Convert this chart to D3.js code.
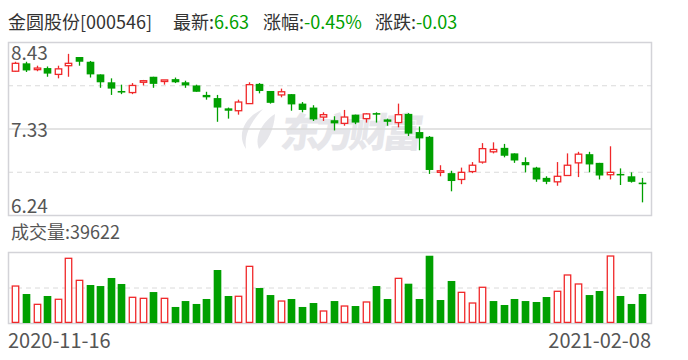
<!DOCTYPE html>
<html><head><meta charset="utf-8">
<script src="https://cdn.jsdelivr.net/npm/d3@7/dist/d3.min.js"></script>
<style>
html,body{margin:0;padding:0;background:#fff;}
svg{display:block;font-family:"Noto Sans CJK SC","Noto Sans",sans-serif;}
</style></head>
<body>
<svg id="chart" width="688" height="360"></svg>
<script>
const stockName = "金圆股份";
const stockCode = "000546";
const dates = ["2020-11-16","2020-11-17","2020-11-18","2020-11-19","2020-11-20","2020-11-23","2020-11-24","2020-11-25","2020-11-26","2020-11-27",
"2020-11-30","2020-12-01","2020-12-02","2020-12-03","2020-12-04","2020-12-07","2020-12-08","2020-12-09","2020-12-10","2020-12-11",
"2020-12-14","2020-12-15","2020-12-16","2020-12-17","2020-12-18","2020-12-21","2020-12-22","2020-12-23","2020-12-24","2020-12-25",
"2020-12-28","2020-12-29","2020-12-30","2020-12-31","2021-01-04","2021-01-05","2021-01-06","2021-01-07","2021-01-08","2021-01-11",
"2021-01-12","2021-01-13","2021-01-14","2021-01-15","2021-01-18","2021-01-19","2021-01-20","2021-01-21","2021-01-22","2021-01-25",
"2021-01-26","2021-01-27","2021-01-28","2021-01-29","2021-02-01","2021-02-02","2021-02-03","2021-02-04","2021-02-05","2021-02-08"];
const open  = [8.06,8.16,8.08,8.10,8.02,8.13,8.24,8.18,8.02,7.92, 7.81,7.79,7.92,7.99,7.93,7.96,7.92,7.88,7.76,7.72,
               7.59,7.56,7.65,7.90,7.81,7.76,7.77,7.65,7.60,7.48, 7.44,7.40,7.51,7.46,7.53,7.45,7.41,7.52,7.29,7.23,
               6.78,6.77,6.69,6.79,6.91,7.04,7.09,7.02,6.91,6.84, 6.71,6.66,6.74,6.90,7.01,6.90,6.75,6.76,6.73,6.65];
const high  = [8.18,8.18,8.13,8.12,8.13,8.28,8.24,8.19,8.02,7.97, 7.89,7.91,7.95,7.99,7.95,7.98,7.94,7.89,7.80,7.76,
               7.60,7.70,7.92,7.91,7.81,7.84,7.77,7.67,7.63,7.54, 7.49,7.57,7.51,7.53,7.54,7.46,7.65,7.53,7.36,7.24,
               6.87,6.80,6.84,6.91,7.15,7.16,7.14,7.02,6.97,6.85, 6.73,6.91,7.02,7.04,7.04,6.90,7.11,6.83,6.78,6.71];
const low   = [8.05,8.05,8.06,7.99,7.97,7.99,8.13,7.98,7.85,7.76, 7.77,7.77,7.88,7.85,7.89,7.91,7.85,7.80,7.70,7.42,
               7.46,7.51,7.65,7.78,7.65,7.73,7.56,7.54,7.43,7.43, 7.31,7.37,7.39,7.41,7.41,7.37,7.35,7.24,7.06,6.76,
               6.73,6.54,6.63,6.77,6.89,7.02,6.97,6.90,6.78,6.66, 6.63,6.61,6.74,6.72,6.78,6.69,6.69,6.62,6.65,6.40];
const close = [8.16,8.07,8.10,8.03,8.09,8.16,8.18,8.02,7.92,7.84, 7.79,7.88,7.94,7.90,7.95,7.92,7.88,7.80,7.73,7.60,
               7.56,7.67,7.89,7.81,7.66,7.80,7.64,7.57,7.45,7.51, 7.40,7.48,7.41,7.52,7.51,7.42,7.51,7.27,7.21,6.81,
               6.80,6.67,6.78,6.87,7.08,7.07,6.99,6.93,6.87,6.69, 6.66,6.73,6.87,7.01,6.88,6.74,6.78,6.75,6.66,6.63];
const volume = [50500,39600,25500,36900,32400,88400,58300,51900,50500,61500, 53300,35100,33700,42300,33700,21900,30000,26000,32800,72400,
                36900,36500,77400,47800,38200,30000,32800,21900,27300,16400, 30000,23200,23200,28700,50500,32800,61000,53700,32800,91900,
                31400,57400,41900,27300,48800,30000,24600,32800,30000,28700, 35500,43300,65600,53300,38200,43700,91500,36900,26000,39622];
const priceTicks = [8.43, 7.335, 6.24];
const priceTickLabels = ["8.43","7.33","6.24"];
const volumeMax = 97000;

const RED = "#f0282a", GREEN = "#00a000", TXT = "#555", FRAME = "#d3d3d8", GRID = "#dadada";
const svg = d3.select("#chart");
const M = {left: 8, right: 651, top: 42, bottom: 215, vTop: 252, vBottom: 323};
const fmt2 = d3.formatLocale({decimal: ".", thousands: ",", grouping: [3], currency: ["", ""], minus: "-"}).format(".2f");

const x = d3.scaleBand().domain(dates).range([10, 647]).padding(0);
const y = d3.scaleLinear().domain([6.24, 8.43]).range([M.bottom, M.top]);
const yv = d3.scaleLinear().domain([0, volumeMax]).range([M.vBottom, M.vTop]);
const bw = x.bandwidth() * 0.72;
const cx = d => x(d) + x.bandwidth() / 2;

// header
const n = close.length;
const last = close[n - 1], chg = last - close[n - 2], pct = chg / close[n - 2] * 100;
const header = svg.append("text").attr("x", 8).attr("y", 29).attr("font-size", 18).attr("fill", "#333");
header.append("tspan").text(`${stockName}[${stockCode}]`);
header.append("tspan").attr("x", 173).text("最新:");
header.append("tspan").attr("fill", GREEN).text(fmt2(last));
header.append("tspan").attr("x", 263).text("涨幅:");
header.append("tspan").attr("fill", GREEN).text(fmt2(pct) + "%");
header.append("tspan").attr("x", 375).text("涨跌:");
header.append("tspan").attr("fill", GREEN).text(fmt2(chg));

// watermark
const wm = svg.append("g").attr("fill", "#e6e6ea");
wm.append("path").attr("d", "M263,109 C245,117 236,134 246,149 C244,135 250,123 263,109 Z");
wm.append("path").attr("d", "M275,114 C262,122 254,137 259,149 C268,141 274,130 275,114 Z");
wm.append("text").attr("x", 280).attr("y", 147).attr("font-size", 40).attr("font-weight", 900)
  .attr("transform", "skewX(-8) translate(20,0)").attr("textLength", 142).text("东方财富");

// price grid
const q = (M.bottom - M.top) / 4;
[1, 3].forEach(k => svg.append("line").attr("x1", M.left).attr("x2", M.right)
  .attr("y1", M.top + k * q + 0.5).attr("y2", M.top + k * q + 0.5)
  .attr("stroke", GRID).attr("stroke-dasharray", "5,4"));
svg.append("line").attr("x1", M.left).attr("x2", M.right)
  .attr("y1", y(priceTicks[1]) + 0.5).attr("y2", y(priceTicks[1]) + 0.5).attr("stroke", GRID).attr("stroke-width", 1.5);
svg.append("rect").attr("x", M.left + 0.5).attr("y", M.top + 0.5).attr("width", M.right - M.left)
  .attr("height", M.bottom - M.top).attr("fill", "none").attr("stroke", FRAME).attr("stroke-width", 1.5);

// price labels
svg.selectAll("text.pt").data(priceTicks).join("text").attr("class", "pt")
  .attr("x", 11).attr("y", (d, i) => i === 0 ? y(d) + 18 : i === 1 ? y(d) + 8 : y(d) - 2)
  .attr("font-size", 19).attr("fill", TXT).text((d, i) => priceTickLabels[i]);

// candles
const candles = svg.append("g").selectAll("g").data(dates).join("g");
candles.each(function(d, i) {
  const g = d3.select(this);
  const up = close[i] >= open[i];
  const col = up ? RED : GREEN;
  const c = Math.round(cx(d)) + 0.5;
  const top = y(Math.max(open[i], close[i])), bot = y(Math.min(open[i], close[i]));
  if (up) {
    g.append("line").attr("x1", c).attr("x2", c).attr("y1", y(high[i])).attr("y2", top).attr("stroke", col).attr("stroke-width", 1.3);
    g.append("line").attr("x1", c).attr("x2", c).attr("y1", bot).attr("y2", y(low[i])).attr("stroke", col).attr("stroke-width", 1.3);
    g.append("rect").attr("x", c - bw / 2 + 0.6).attr("y", top).attr("width", bw - 1.2)
      .attr("height", Math.max(bot - top, 1.2)).attr("fill", "#fff").attr("stroke", col).attr("stroke-width", 1.3);
  } else {
    g.append("line").attr("x1", c).attr("x2", c).attr("y1", y(high[i])).attr("y2", y(low[i])).attr("stroke", col).attr("stroke-width", 1.3);
    g.append("rect").attr("x", c - bw / 2).attr("y", top).attr("width", bw)
      .attr("height", Math.max(bot - top, 1.5)).attr("fill", col);
  }
});

// volume
svg.append("text").attr("x", 11).attr("y", 239).attr("font-size", 18).attr("fill", TXT)
  .text("成交量:" + volume[n - 1]);
svg.append("line").attr("x1", M.left).attr("x2", M.right)
  .attr("y1", (M.vTop + M.vBottom) / 2 + 0.5).attr("y2", (M.vTop + M.vBottom) / 2 + 0.5)
  .attr("stroke", GRID).attr("stroke-dasharray", "5,4");
svg.append("rect").attr("x", M.left + 0.5).attr("y", M.vTop + 0.5).attr("width", M.right - M.left)
  .attr("height", M.vBottom - M.vTop).attr("fill", "none").attr("stroke", FRAME).attr("stroke-width", 1.5);
svg.append("g").selectAll("rect").data(dates).join("rect")
  .each(function(d, i) {
    const upv = i === 0 ? close[i] >= open[i] : close[i] >= close[i - 1];
    const r = d3.select(this);
    const c = Math.round(cx(d)) + 0.5;
    if (upv) {
      r.attr("x", c - bw / 2 + 0.6).attr("width", bw - 1.2).attr("y", yv(volume[i])).attr("height", M.vBottom - 0.6 - yv(volume[i]))
        .attr("fill", "#fff").attr("stroke", RED).attr("stroke-width", 1.3);
    } else {
      r.attr("x", c - bw / 2).attr("width", bw).attr("y", yv(volume[i])).attr("height", M.vBottom - yv(volume[i]))
        .attr("fill", GREEN);
    }
  });

// dates
svg.append("text").attr("x", 8).attr("y", 348).attr("font-size", 20).attr("fill", TXT).text(dates[0]);
svg.append("text").attr("x", 651).attr("y", 348).attr("text-anchor", "end").attr("font-size", 20).attr("fill", TXT).text(dates[n - 1]);
</script>
</body></html>
